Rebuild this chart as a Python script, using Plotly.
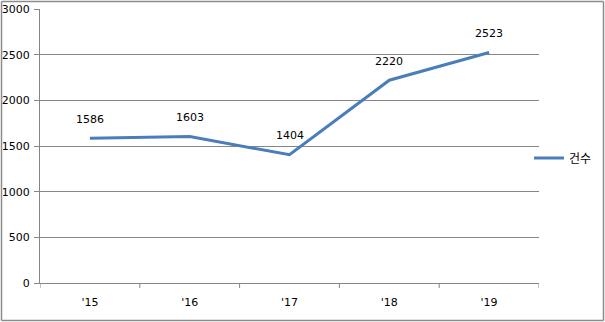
import plotly.graph_objects as go

categories = ["'15", "'16", "'17", "'18", "'19"]
values = [1586, 1603, 1404, 2220, 2523]
series_name = "건수"
y_ticks = [0, 500, 1000, 1500, 2000, 2500, 3000]

W, H = 605, 322
ml, mr, mt, mb = 40, 66, 9, 39
pw, ph = W - ml - mr, H - mt - mb


def px_x(p):
    return (p - ml) / pw


def px_y(p):
    return (H - mb - p) / ph


font = dict(family="DejaVu Sans, Noto Sans CJK KR, sans-serif", size=11, color="#000000")
line_color = "#4A7EBB"
grid_color = "#868686"

fig = go.Figure()
xs = list(range(len(categories)))
fig.add_trace(go.Scatter(
    x=xs, y=values, mode="lines", name=series_name,
    line=dict(color=line_color, width=3),
    hoverinfo="skip",
))

for x, v in zip(xs, values):
    fig.add_annotation(x=x, y=v, text=str(v), showarrow=False, yshift=19,
                       font=font, xref="x", yref="y")

# outer border
bx0, bx1, by0, by1 = 1.5, 603.5, 1.5, 320.5
border = dict(color="#8C8C8C", width=1.5)
for (a, b, c, d) in [(bx0, by0, bx1, by0), (bx0, by1, bx1, by1),
                     (bx0, by0, bx0, by1), (bx1, by0, bx1, by1)]:
    fig.add_shape(type="line", xref="paper", yref="paper",
                  x0=px_x(a), y0=px_y(b), x1=px_x(c), y1=px_y(d), line=border)

fig.update_layout(
    width=W, height=H,
    margin=dict(l=ml, r=mr, t=mt, b=mb, autoexpand=False),
    paper_bgcolor="white", plot_bgcolor="white",
    font=font,
    showlegend=True,
    legend=dict(x=px_x(529), y=px_y(158), xanchor="left", yanchor="middle",
                font=dict(family="Noto Sans CJK KR, sans-serif", size=12, color="#000"),
                bgcolor="rgba(0,0,0,0)", itemwidth=30),
    xaxis=dict(
        tickmode="array", tickvals=xs, ticktext=categories,
        range=[-0.5, len(categories) - 0.5],
        showgrid=False, zeroline=False, automargin=False,
        showline=True, linecolor=grid_color, linewidth=1,
        ticks="", ticklabelstandoff=9,
        tickfont=font,
    ),
    yaxis=dict(
        range=[0, 3000.01], tickmode="array", tickvals=y_ticks,
        ticktext=[str(t) for t in y_ticks], automargin=False,
        showgrid=True, gridcolor=grid_color, gridwidth=1,
        zeroline=False, showline=True, linecolor=grid_color, linewidth=1,
        ticks="outside", ticklen=5, tickcolor=grid_color,
        tickfont=font, ticklabelstandoff=2,
    ),
)

# category boundary tick marks on x axis
for b in range(len(categories) + 1):
    fig.add_shape(type="line", xref="x", yref="paper", x0=b - 0.5, x1=b - 0.5,
                  y0=0, y1=-5 / ph, line=dict(color=grid_color, width=1))

fig.write_html("out.html")
